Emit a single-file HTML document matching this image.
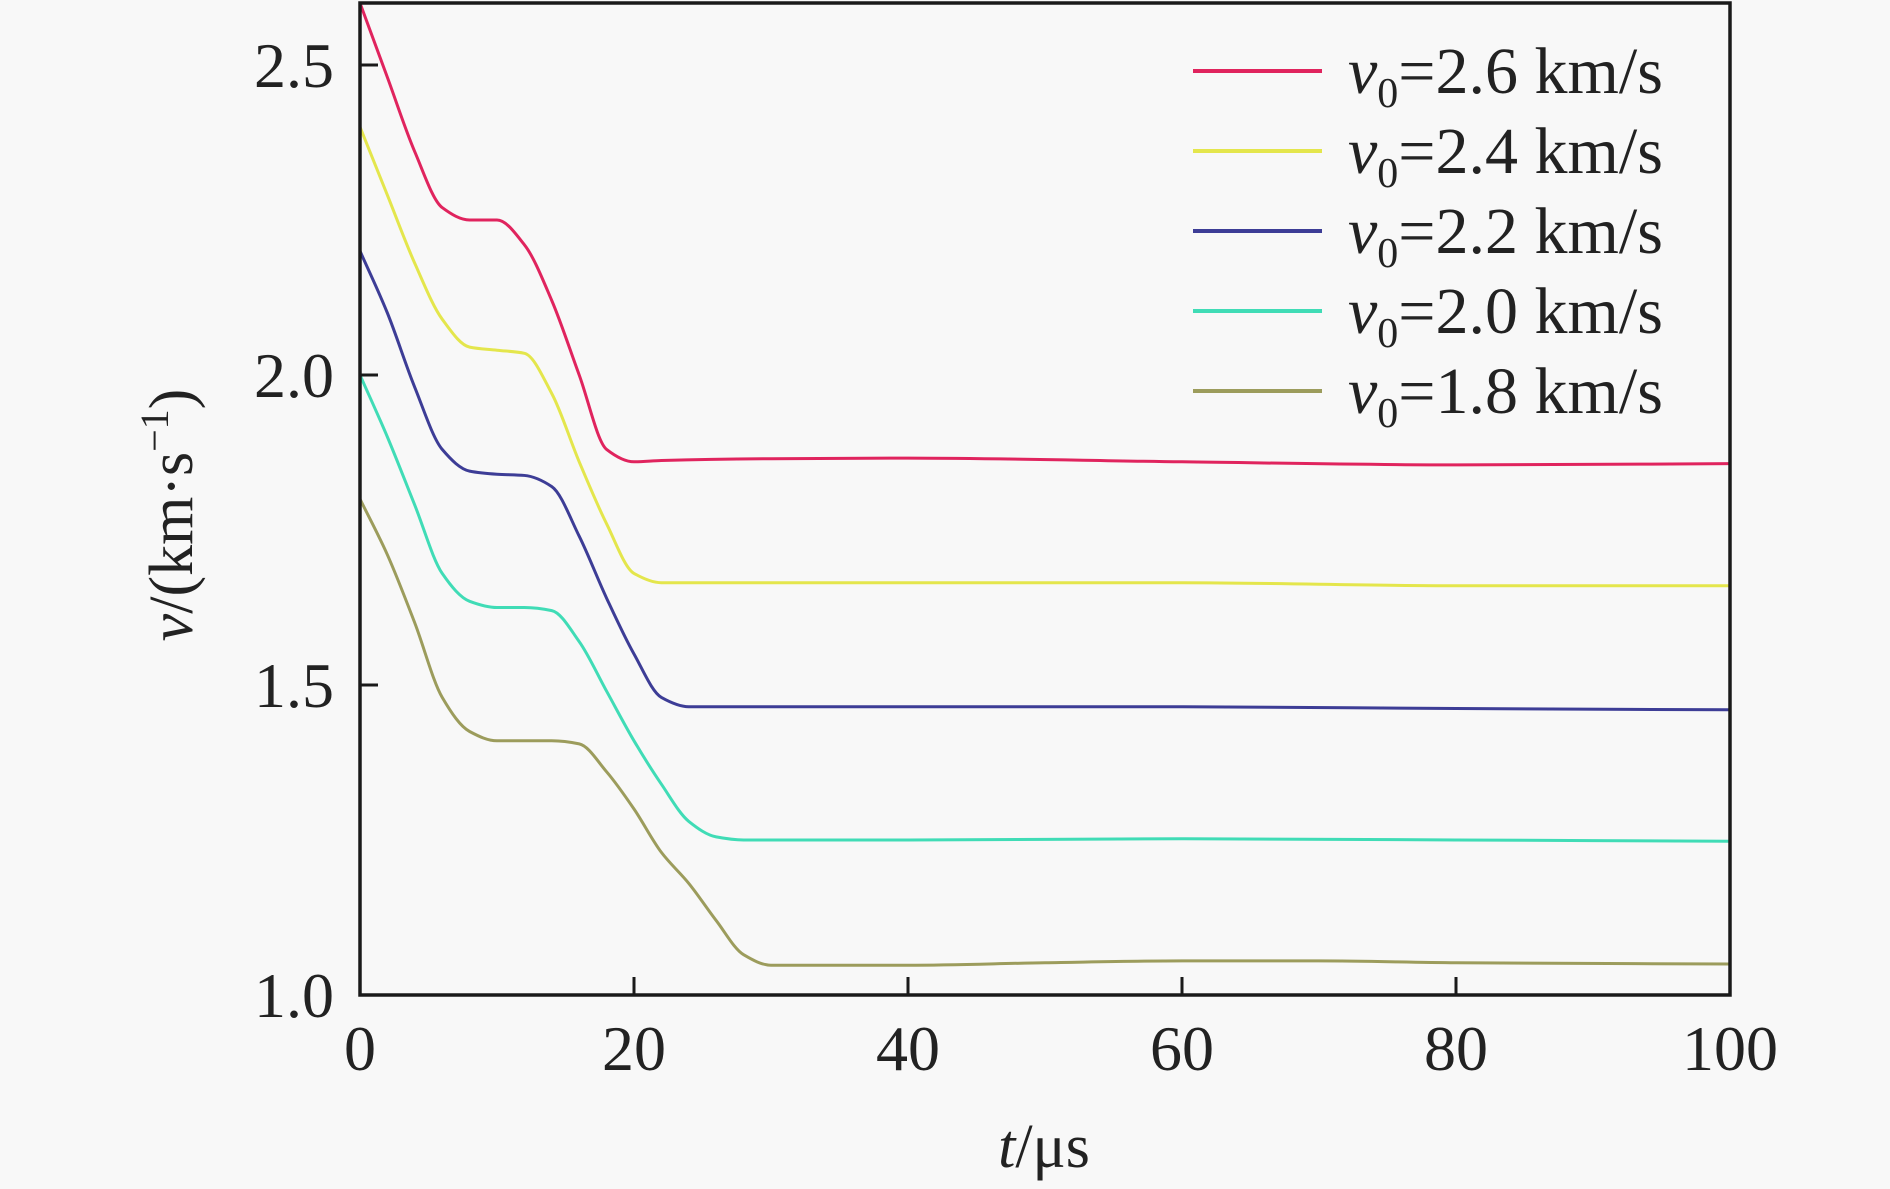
<!DOCTYPE html>
<html><head><meta charset="utf-8"><style>
html,body{margin:0;padding:0;background:#f8f8f8;}
svg{display:block;}
svg text{font-family:"Liberation Serif","Times New Roman",serif;}
</style></head><body>
<svg id="chart" width="1890" height="1189" viewBox="0 0 1890 1189">
<rect width="1890" height="1189" fill="#f8f8f8"/>
<g id="series"></g>
<g id="axes"></g>
<g id="legend"></g>
<text x="1044" y="1167" font-family="Liberation Serif, serif" font-size="62" text-anchor="middle" fill="#222"><tspan font-style="italic">t</tspan>/μs</text>
<text transform="translate(192,515) rotate(-90)" font-family="Liberation Serif, serif" font-size="62" text-anchor="middle" fill="#222"><tspan font-style="italic">v</tspan>/(km·s<tspan dy="-24" font-size="40">−1</tspan><tspan dy="24">)</tspan></text>
</svg>
<script>
const xTicks = [0, 20, 40, 60, 80, 100];
const yTicks = [1.0, 1.5, 2.0, 2.5];
const seriesNames = ["v0=2.6 km/s", "v0=2.4 km/s", "v0=2.2 km/s", "v0=2.0 km/s", "v0=1.8 km/s"];
const legendValues = ["2.6", "2.4", "2.2", "2.0", "1.8"];
const seriesColors = ["#e0245e", "#e4e64c", "#3d3d96", "#40dcb6", "#9c9c5c"];
const tRed = [0, 2, 4, 6, 8, 10, 12, 14, 16, 18, 20, 22, 30, 40, 60, 80, 100];
const vRed = [2.6, 2.48, 2.36, 2.27, 2.25, 2.25, 2.21, 2.12, 2.0, 1.88, 1.86, 1.862, 1.865, 1.866, 1.86, 1.855, 1.857];
const tYellow = [0, 2, 4, 6, 8, 10, 12, 14, 16, 18, 20, 22, 40, 60, 80, 100];
const vYellow = [2.4, 2.29, 2.18, 2.09, 2.045, 2.04, 2.035, 1.97, 1.86, 1.76, 1.68, 1.665, 1.665, 1.665, 1.66, 1.66];
const tBlue = [0, 2, 4, 6, 8, 10, 12, 14, 16, 18, 20, 22, 24, 40, 60, 80, 100];
const vBlue = [2.2, 2.1, 1.98, 1.88, 1.845, 1.84, 1.838, 1.82, 1.74, 1.64, 1.55, 1.48, 1.465, 1.465, 1.465, 1.462, 1.46];
const tTeal = [0, 2, 4, 6, 8, 10, 12, 14, 16, 18, 20, 22, 24, 26, 28, 40, 60, 80, 100];
const vTeal = [2.0, 1.9, 1.79, 1.68, 1.635, 1.625, 1.625, 1.62, 1.57, 1.49, 1.41, 1.34, 1.28, 1.255, 1.25, 1.25, 1.252, 1.25, 1.248];
const tOlive = [0, 2, 4, 6, 8, 10, 12, 14, 16, 18, 20, 22, 24, 26, 28, 30, 40, 50, 60, 70, 80, 100];
const vOlive = [1.8, 1.71, 1.6, 1.48, 1.425, 1.41, 1.41, 1.41, 1.405, 1.36, 1.3, 1.23, 1.18, 1.12, 1.065, 1.048, 1.048, 1.052, 1.055, 1.055, 1.052, 1.05];

const NS = "http://www.w3.org/2000/svg";
const X0 = 360, X1 = 1730, Y0 = 995, Y1 = 3;
const xMin = 0, xMax = 100, yMin = 1.0, yMax = 2.6;
function xs(t) { return X0 + (t - xMin) / (xMax - xMin) * (X1 - X0); }
function ys(v) { return Y0 - (v - yMin) / (yMax - yMin) * (Y0 - Y1); }
function mk(tag, parent) { const e = document.createElementNS(NS, tag); parent.appendChild(e); return e; }

// monotone cubic (Fritsch-Carlson) in data space
function smoothPath(ts, vs) {
  const n = ts.length, d = [], m = new Array(n);
  for (let i = 0; i < n - 1; i++) d.push((vs[i + 1] - vs[i]) / (ts[i + 1] - ts[i]));
  m[0] = d[0]; m[n - 1] = d[n - 2];
  for (let i = 1; i < n - 1; i++) {
    if (d[i - 1] * d[i] <= 0) m[i] = 0;
    else {
      const h0 = ts[i] - ts[i - 1], h1 = ts[i + 1] - ts[i];
      const w1 = 2 * h1 + h0, w2 = h1 + 2 * h0;
      m[i] = (w1 + w2) / (w1 / d[i - 1] + w2 / d[i]);
    }
  }
  let p = "M" + xs(ts[0]) + "," + ys(vs[0]);
  for (let i = 0; i < n - 1; i++) {
    const h = ts[i + 1] - ts[i];
    const c1t = ts[i] + h / 3, c1v = vs[i] + m[i] * h / 3;
    const c2t = ts[i + 1] - h / 3, c2v = vs[i + 1] - m[i + 1] * h / 3;
    p += " C" + xs(c1t) + "," + ys(c1v) + " " + xs(c2t) + "," + ys(c2v) + " " + xs(ts[i + 1]) + "," + ys(vs[i + 1]);
  }
  return p;
}

const sg = document.getElementById("series");
const allT = [tRed, tYellow, tBlue, tTeal, tOlive];
const allV = [vRed, vYellow, vBlue, vTeal, vOlive];
allT.forEach((ts, i) => {
  const path = mk("path", sg);
  path.setAttribute("d", smoothPath(ts, allV[i]));
  path.setAttribute("fill", "none");
  path.setAttribute("stroke", seriesColors[i]);
  path.setAttribute("stroke-width", "3");
  
  
});

const ag = document.getElementById("axes");
const frame = mk("rect", ag);
frame.setAttribute("x", X0); frame.setAttribute("y", Y1);
frame.setAttribute("width", X1 - X0); frame.setAttribute("height", Y0 - Y1);
frame.setAttribute("fill", "none"); frame.setAttribute("stroke", "#1a1a1a"); frame.setAttribute("stroke-width", "3.5");



xTicks.forEach(t => {
  const l = mk("line", ag);
  l.setAttribute("x1", xs(t)); l.setAttribute("x2", xs(t));
  l.setAttribute("y1", Y0); l.setAttribute("y2", Y0 - 18);
  l.setAttribute("stroke", "#1a1a1a"); l.setAttribute("stroke-width", "3");
  
  
  const tx = mk("text", ag);
  tx.setAttribute("x", xs(t)); tx.setAttribute("y", 1070);
  tx.setAttribute("font-family", "Liberation Serif, serif");
  tx.setAttribute("font-size", "64"); tx.setAttribute("text-anchor", "middle"); tx.setAttribute("fill", "#222");
  tx.textContent = String(t);
  
  
});
yTicks.forEach(v => {
  const l = mk("line", ag);
  l.setAttribute("x1", X0); l.setAttribute("x2", X0 + 18);
  l.setAttribute("y1", ys(v)); l.setAttribute("y2", ys(v));
  l.setAttribute("stroke", "#1a1a1a"); l.setAttribute("stroke-width", "3");
  
  
  const tx = mk("text", ag);
  tx.setAttribute("x", 334); tx.setAttribute("y", ys(v) + 22);
  tx.setAttribute("font-family", "Liberation Serif, serif");
  tx.setAttribute("font-size", "64"); tx.setAttribute("text-anchor", "end"); tx.setAttribute("fill", "#222");
  tx.textContent = v.toFixed(1);
  
  
});

const lg = document.getElementById("legend");
legendValues.forEach((val, i) => {
  const y = 71 + i * 80;
  const l = mk("line", lg);
  l.setAttribute("x1", 1193); l.setAttribute("x2", 1322);
  l.setAttribute("y1", y); l.setAttribute("y2", y);
  l.setAttribute("stroke", seriesColors[i]); l.setAttribute("stroke-width", "4");
  
  
  const tx = mk("text", lg);
  tx.setAttribute("x", 1348); tx.setAttribute("y", y + 22);
  tx.setAttribute("font-family", "Liberation Serif, serif");
  tx.setAttribute("font-size", "66"); tx.setAttribute("fill", "#222");
  tx.innerHTML = '<tspan font-style="italic">v</tspan><tspan font-size="42" dy="14">0</tspan><tspan dy="-14">=' + val + ' km/s</tspan>';
  
  
});
</script>
</body></html>
